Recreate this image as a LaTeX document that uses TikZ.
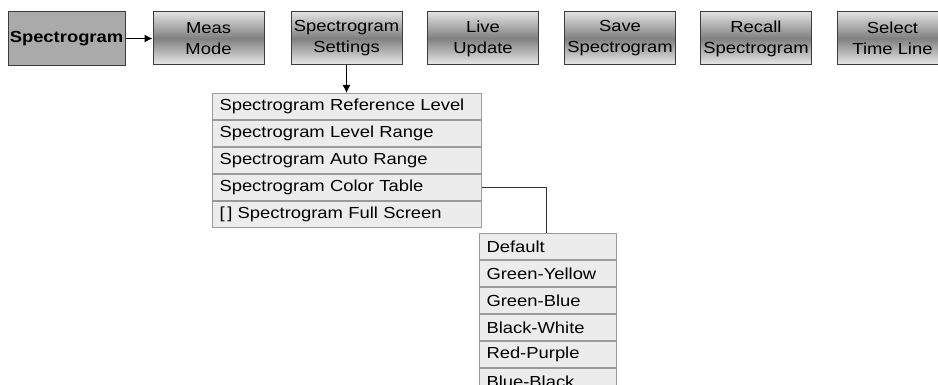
\documentclass[tikz,border=0pt]{standalone}
\usepackage{fontspec}
\setmainfont[FakeStretch=1.15]{Liberation Sans}
\usetikzlibrary{arrows.meta}
\definecolor{rowfill}{HTML}{ECECEC}
\definecolor{rowline}{HTML}{9A9A9A}
\definecolor{keyfill}{HTML}{AAAAAA}
\definecolor{keyline}{HTML}{3C3C3C}
\begin{document}
\begin{tikzpicture}[x=1pt,y=-1pt,
	softkey/.style={draw=keyline,line width=1pt,minimum width=111pt,minimum height=53pt,
		top color=black!12,bottom color=black!8,middle color=black!50,
		align=center,font=\fontsize{16}{21}\selectfont,inner sep=0pt},
	mainkey/.style={draw=keyline,line width=1pt,fill=keyfill,minimum width=117pt,
		minimum height=54pt,font=\fontsize{16}{21}\selectfont\bfseries,inner sep=0pt},
	menurow/.style={draw=rowline,line width=1pt,fill=rowfill,anchor=north west,
		minimum height=26pt,inner xsep=7pt,inner ysep=0pt,align=left,
		font=\fontsize{16}{19}\selectfont},
	arr/.style={-{Latex[length=8pt,width=8pt]},line width=1pt},
	link/.style={line width=1pt,draw=black!80}]
	\clip (0,0) rectangle (938,385);
	\path
	coordinate (k0) at (66.5,38.5)
	coordinate (k1) at (208.5,38.5)
	coordinate (k2) at (346.5,38.5)
	coordinate (k3) at (483,38.5)
	coordinate (k4) at (620,38.5)
	coordinate (k5) at (756,38.5)
	coordinate (k6) at (892.5,38.5)
	coordinate (m1) at (212,93)
	coordinate (m2) at (479,233)
	;
	% top row of keys
	\node[mainkey] (spec) at (k0) {Spectrogram};
	\node[softkey] (meas) at (k1) {Meas\\Mode};
	\node[softkey] (sets) at (k2) {Spectrogram\\Settings};
	\node[softkey] (live) at (k3) {Live\\Update};
	\node[softkey] (save) at (k4) {Save\\Spectrogram};
	\node[softkey] (recall) at (k5) {Recall\\Spectrogram};
	\node[softkey] (timeline) at (k6) {Select\\Time Line};
	% settings menu
	\node[menurow,text width=255pt] (refLevel) at (m1) {Spectrogram Reference Level};
	\node[menurow,text width=255pt] (lvlRange) at (refLevel.south west) {Spectrogram Level Range};
	\node[menurow,text width=255pt] (autoRange) at (lvlRange.south west) {Spectrogram Auto Range};
	\node[menurow,text width=255pt] (colTable) at (autoRange.south west) {Spectrogram Color Table};
	\node[menurow,text width=255pt] (fullScr) at (colTable.south west) {[\,] Spectrogram Full Screen};
	% color table menu
	\node[menurow,text width=123pt] (cDefault) at (m2) {Default};
	\node[menurow,text width=123pt] (cGreenYel) at (cDefault.south west) {Green-Yellow};
	\node[menurow,text width=123pt] (cGreenBlue) at (cGreenYel.south west) {Green-Blue};
	\node[menurow,text width=123pt] (cBlackWhite) at (cGreenBlue.south west) {Black-White};
	\node[menurow,text width=123pt] (cRedPurple) at (cBlackWhite.south west) {Red-Purple};
	\node[menurow,text width=123pt] (cBlueBlack) at (cRedPurple.south west) {Blue-Black};
	% connectors
	\draw[arr] (spec.east) -- (meas.west);
	\draw[arr] (sets.south) -- (sets.south |- refLevel.north);
	\draw[link] (colTable.east) -| ([xshift=-1pt]cDefault.north -| 547,0);
\end{tikzpicture}
\end{document}
